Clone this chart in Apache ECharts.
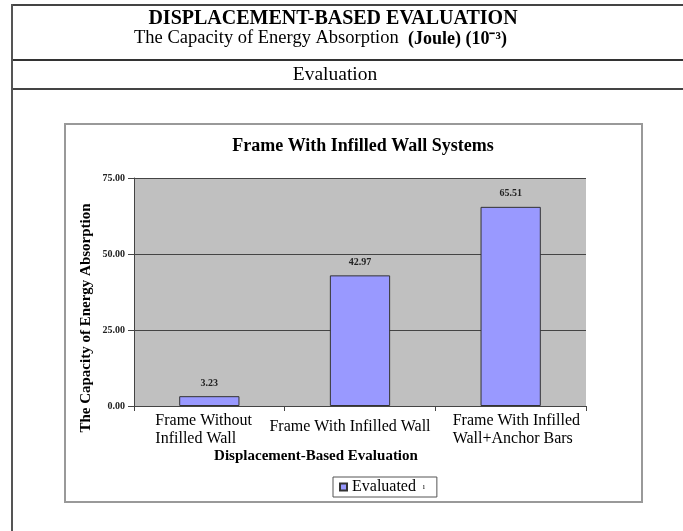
<!DOCTYPE html>
<html>
<head>
<meta charset="utf-8">
<script src="https://cdn.jsdelivr.net/npm/echarts@6/dist/echarts.min.js"></script>
<style>
  html, body { margin: 0; padding: 0; background: #fff; }
  #chart { width: 683px; height: 531px; }
</style>
</head>
<body>
<div id="chart"></div>
<script>
const categories = ["Frame Without\nInfilled Wall", "Frame With Infilled Wall", "Frame With Infilled\nWall+Anchor Bars"];
const evaluated = [3.23, 42.97, 65.51];
const seriesName = "Evaluated";

const serif = "'Liberation Serif', 'Times New Roman', serif";
const chart = echarts.init(document.getElementById("chart"));

// label nudges so the category labels sit like the Excel original
const labelPadding = [[0, 10, 0, 0], [6, 20, 0, 0], [0, 0, 0, 12]];
const labelFont = { fontFamily: serif, fontSize: 16, color: "#000" };

chart.setOption({
  animation: false,
  title: [
    {
      text: "DISPLACEMENT-BASED EVALUATION",
      left: 333, top: 19, padding: 0, textAlign: "center", textVerticalAlign: "middle",
      textStyle: { fontFamily: serif, fontSize: 20, fontWeight: "bold", color: "#000" }
    },
    {
      text: "The Capacity of Energy Absorption",
      left: 134, top: 38.5, padding: 0, textAlign: "left", textVerticalAlign: "middle",
      textStyle: { fontFamily: serif, fontSize: 18.5, fontWeight: "normal", color: "#000" }
    },
    {
      text: "(Joule) (10⁻³)",
      left: 408, top: 39.5, padding: 0, textAlign: "left", textVerticalAlign: "middle",
      textStyle: { fontFamily: serif, fontSize: 18, fontWeight: "bold", color: "#000" }
    },
    {
      text: "Evaluation",
      left: 335, top: 75, padding: 0, textAlign: "center", textVerticalAlign: "middle",
      textStyle: { fontFamily: serif, fontSize: 19.5, fontWeight: "normal", color: "#000" }
    },
    {
      text: "Frame With Infilled Wall Systems",
      left: 363, top: 146, padding: 0, textAlign: "center", textVerticalAlign: "middle",
      textStyle: { fontFamily: serif, fontSize: 18, fontWeight: "bold", color: "#000" }
    },
    {
      text: "Displacement-Based Evaluation",
      left: 316, top: 456, padding: 0, textAlign: "center", textVerticalAlign: "middle",
      textStyle: { fontFamily: serif, fontSize: 15, fontWeight: "bold", color: "#000" }
    }
  ],
  graphic: [
    // table borders
    { type: "line", shape: { x1: 12, y1: 5, x2: 683, y2: 5 }, style: { stroke: "#444", lineWidth: 2 } },
    { type: "line", shape: { x1: 12, y1: 60, x2: 683, y2: 60 }, style: { stroke: "#333", lineWidth: 2 } },
    { type: "line", shape: { x1: 12, y1: 89, x2: 683, y2: 89 }, style: { stroke: "#444", lineWidth: 2 } },
    { type: "line", shape: { x1: 12, y1: 4, x2: 12, y2: 531 }, style: { stroke: "#555", lineWidth: 2 } },
    // chart frame
    { type: "rect", shape: { x: 65, y: 124, width: 577, height: 378 }, style: { fill: null, stroke: "#999", lineWidth: 2 } },
    {
      type: "text", x: 86, y: 318, rotation: Math.PI / 2,
      style: {
        text: "The Capacity of Energy Absorption", align: "center", verticalAlign: "middle",
        fontFamily: serif, fontSize: 15, fontWeight: "bold", fill: "#000"
      }
    }
  ],
  legend: {
    data: [seriesName],
    left: 333, top: 477,
    icon: "rect", itemWidth: 7, itemHeight: 7,
    borderColor: "#555", borderWidth: 1,
    padding: [2, 12, 2, 6],
    formatter: "{a|Evaluated}  {b|ı}",
    textStyle: {
      rich: {
        a: { fontFamily: serif, fontSize: 16, color: "#000" },
        b: { fontFamily: serif, fontSize: 8, color: "#000" }
      }
    }
  },
  grid: {
    left: 134, top: 178, width: 452, height: 228,
    show: true, backgroundColor: "#c0c0c0", borderWidth: 0
  },
  xAxis: {
    type: "category",
    data: categories.map((c, i) => ({ value: c, textStyle: { padding: labelPadding[i] } })),
    axisLine: { lineStyle: { color: "#444", width: 1 } },
    axisTick: { show: true, length: 5, lineStyle: { color: "#444" } },
    axisLabel: {
      interval: 0, margin: 6, lineHeight: 18, ...labelFont,
      formatter: (value, index) => value.split("\n").map((s) => `{w${index}|${s}}`).join("\n"),
      rich: {
        w0: { ...labelFont, lineHeight: 18, width: 98, align: "left" },
        w1: { ...labelFont, lineHeight: 18 },
        w2: { ...labelFont, lineHeight: 18, width: 128, align: "left" }
      }
    }
  },
  yAxis: {
    type: "value",
    min: 0, max: 75, interval: 25,
    axisLine: { show: true, lineStyle: { color: "#444", width: 1 } },
    axisTick: { show: true, length: 6, lineStyle: { color: "#444" } },
    axisLabel: {
      formatter: (v) => v.toFixed(2), margin: 9,
      fontFamily: serif, fontSize: 10, fontWeight: "bold", color: "#222"
    },
    splitLine: { lineStyle: { color: "#444", width: 1 } }
  },
  series: [
    {
      name: seriesName,
      type: "bar",
      data: evaluated,
      barWidth: "40%",
      itemStyle: { color: "#9999ff", borderColor: "#333", borderWidth: 1 },
      label: {
        show: true, position: "top", distance: 8,
        formatter: (p) => p.value.toFixed(2),
        fontFamily: serif, fontSize: 10, fontWeight: "bold", color: "#222"
      }
    }
  ]
});
</script>
</body>
</html>
